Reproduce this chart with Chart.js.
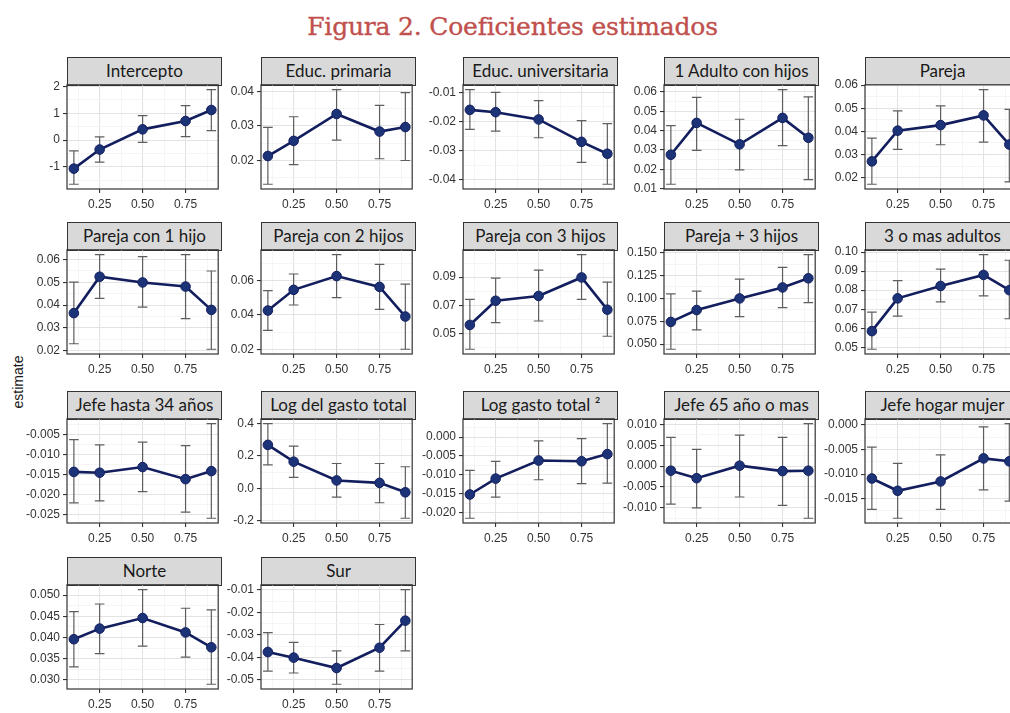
<!DOCTYPE html>
<html>
<head>
<meta charset="utf-8">
<script src="https://cdn.jsdelivr.net/npm/chart.js@4.4.0/dist/chart.umd.min.js"></script>
<style>
    body { margin: 0; width: 1010px; height: 713px; overflow: hidden; background: #fff; position: relative; }
    #title { position: absolute; left: 0; top: 12px; width: 1025px; text-align: center;
             font-family: "DejaVu Serif", serif; font-size: 25px; color: #c0504d;
             -webkit-text-stroke: 0.35px #c0504d; letter-spacing: -0.2px; }
    #ylab { position: absolute; left: -14px; top: 374px; width: 64px; text-align: center;
            transform: rotate(-90deg); font-family: "Liberation Sans", Arial, sans-serif;
            font-size: 14px; color: #1a1a1a; }
    .strip { position: absolute; box-sizing: border-box; border: 1px solid #333; background: #d9d9d9;
             text-align: center; font-family: Lato, "Open Sans", sans-serif; font-size: 17px;
             color: #1a1a1a; line-height: 26px; white-space: nowrap; overflow: hidden; }
    .panel { position: absolute; }
</style>
</head>
<body>
<div id="title">Figura 2. Coeficientes estimados</div>
<div id="ylab">estimate</div>
<script>
// quantiles on the x axis
const quantiles = [0.1, 0.25, 0.5, 0.75, 0.9];
const xTickValues = [0.25, 0.5, 0.75];
const xTickLabels = ['0.25', '0.50', '0.75'];

const panelNames = [
    'Intercepto', 'Educ. primaria', 'Educ. universitaria', '1 Adulto con hijos', 'Pareja',
    'Pareja con 1 hijo', 'Pareja con 2 hijos', 'Pareja con 3 hijos', 'Pareja + 3 hijos', '3 o mas adultos',
    'Jefe hasta 34 años', 'Log del gasto total', 'Log gasto total ²', 'Jefe 65 año o mas', 'Jefe hogar mujer',
    'Norte', 'Sur'
];

const estimates = [
    [-1.06, -0.35, 0.40, 0.71, 1.12],
    [0.0213, 0.0257, 0.0335, 0.0284, 0.0297],
    [-0.0160, -0.0168, -0.0193, -0.0270, -0.0311],
    [0.0275, 0.0440, 0.0329, 0.0466, 0.0363],
    [0.0270, 0.0403, 0.0427, 0.0469, 0.0343],
    [0.0365, 0.0524, 0.0499, 0.0481, 0.0379],
    [0.0425, 0.0545, 0.0625, 0.0562, 0.0390],
    [0.0562, 0.0733, 0.0767, 0.0898, 0.0670],
    [0.0743, 0.0873, 0.1000, 0.1120, 0.1220],
    [0.0585, 0.0757, 0.0822, 0.0880, 0.0800],
    [-0.0143, -0.0145, -0.0131, -0.0161, -0.0141],
    [0.267, 0.164, 0.049, 0.034, -0.024],
    [-0.0152, -0.0110, -0.0062, -0.0064, -0.0045],
    [-0.0011, -0.0029, 0.0001, -0.0012, -0.0011],
    [-0.0109, -0.0134, -0.0115, -0.0068, -0.0074],
    [0.0396, 0.0421, 0.0446, 0.0412, 0.0377],
    [-0.0376, -0.0401, -0.0447, -0.0357, -0.0237]
];

const lowerCI = [
    [-1.64, -0.82, -0.08, 0.13, 0.35],
    [0.0131, 0.0188, 0.0259, 0.0205, 0.0200],
    [-0.0227, -0.0233, -0.0256, -0.0341, -0.0416],
    [0.0122, 0.0298, 0.0197, 0.0322, 0.0146],
    [0.0171, 0.0322, 0.0342, 0.0353, 0.0181],
    [0.0231, 0.0429, 0.0391, 0.0341, 0.0207],
    [0.0310, 0.0457, 0.0500, 0.0432, 0.0200],
    [0.0390, 0.0578, 0.0590, 0.0743, 0.0482],
    [0.0444, 0.0655, 0.0802, 0.0900, 0.0955],
    [0.0490, 0.0664, 0.0739, 0.0770, 0.0650],
    [-0.0220, -0.0215, -0.0192, -0.0243, -0.0258],
    [0.145, 0.068, -0.053, -0.088, -0.183],
    [-0.0215, -0.0159, -0.0113, -0.0123, -0.0122],
    [-0.0091, -0.0100, -0.0074, -0.0094, -0.0125],
    [-0.0172, -0.0190, -0.0172, -0.0132, -0.0155],
    [0.0331, 0.0362, 0.0380, 0.0354, 0.0290],
    [-0.0461, -0.0469, -0.0519, -0.0461, -0.0371]
];

const upperCI = [
    [-0.40, 0.12, 0.91, 1.28, 1.88],
    [0.0296, 0.0327, 0.0406, 0.0360, 0.0397],
    [-0.0090, -0.0100, -0.0128, -0.0197, -0.0207],
    [0.0426, 0.0572, 0.0459, 0.0613, 0.0575],
    [0.0371, 0.0489, 0.0510, 0.0581, 0.0495],
    [0.0500, 0.0621, 0.0612, 0.0621, 0.0549],
    [0.0540, 0.0637, 0.0750, 0.0693, 0.0578],
    [0.0743, 0.0893, 0.0950, 0.1060, 0.0865],
    [0.1050, 0.1080, 0.1210, 0.1340, 0.1480],
    [0.0685, 0.0850, 0.0910, 0.0987, 0.0957],
    [-0.0063, -0.0076, -0.0069, -0.0078, -0.0023],
    [0.398, 0.260, 0.153, 0.153, 0.133],
    [-0.0088, -0.0064, -0.0010, -0.0004, 0.0036],
    [0.0069, 0.0040, 0.0074, 0.0069, 0.0102],
    [-0.0045, -0.0078, -0.0061, -0.0004, 0.0003],
    [0.0461, 0.0479, 0.0513, 0.0469, 0.0465],
    [-0.0290, -0.0333, -0.0371, -0.0254, -0.0099]
];

const yTickLabels = [
    ['-1', '0', '1', '2'],
    ['0.02', '0.03', '0.04'],
    ['-0.04', '-0.03', '-0.02', '-0.01'],
    ['0.01', '0.02', '0.03', '0.04', '0.05', '0.06'],
    ['0.02', '0.03', '0.04', '0.05', '0.06'],
    ['0.02', '0.03', '0.04', '0.05', '0.06'],
    ['0.02', '0.04', '0.06'],
    ['0.05', '0.07', '0.09'],
    ['0.050', '0.075', '0.100', '0.125', '0.150'],
    ['0.05', '0.06', '0.07', '0.08', '0.09', '0.10'],
    ['-0.025', '-0.020', '-0.015', '-0.010', '-0.005'],
    ['-0.2', '0.0', '0.2', '0.4'],
    ['-0.020', '-0.015', '-0.010', '-0.005', '0.000'],
    ['-0.010', '-0.005', '0.000', '0.005', '0.010'],
    ['-0.015', '-0.010', '-0.005', '0.000'],
    ['0.030', '0.035', '0.040', '0.045', '0.050'],
    ['-0.05', '-0.04', '-0.03', '-0.02', '-0.01']
];

// layout of the facet grid
const colLeft = [67, 261, 463, 664, 865];
const rowTop = [57, 222, 391, 557];
const stripH = 28, plotW = 155, plotH = 108;
const axisW = 48, xAxisH = 26;

const lineColor = '#121e5e';
const pointColor = '#1d3377';
const tickFont = { family: '"Liberation Sans", Arial, sans-serif', size: 12 };

Chart.defaults.font.family = tickFont.family;

const near = (a, b, step) => Math.abs(a - b) < step * 1e-3;

// error bars + panel border
const errorBars = {
    id: 'errorBars',
    beforeDatasetsDraw(chart, args, opts) {
        const { ctx, scales: { x, y } } = chart;
        const i = opts.panel;
        ctx.save();
        ctx.strokeStyle = '#5e5e5e';
        ctx.lineWidth = 1.2;
        quantiles.forEach((q, j) => {
            const px = x.getPixelForValue(q);
            const w = x.getPixelForValue(q + 0.028) - px;
            const y1 = y.getPixelForValue(lowerCI[i][j]);
            const y2 = y.getPixelForValue(upperCI[i][j]);
            ctx.beginPath();
            ctx.moveTo(px, y1); ctx.lineTo(px, y2);
            ctx.moveTo(px - w, y1); ctx.lineTo(px + w, y1);
            ctx.moveTo(px - w, y2); ctx.lineTo(px + w, y2);
            ctx.stroke();
        });
        ctx.restore();
    },
    afterDraw(chart) {
        const { ctx, chartArea: a } = chart;
        ctx.save();
        ctx.strokeStyle = '#333';
        ctx.lineWidth = 1.2;
        ctx.strokeRect(a.left, a.top, a.right - a.left, a.bottom - a.top);
        ctx.restore();
    }
};

function makePanel(i) {
    const col = i % 5, row = Math.floor(i / 5);
    const left = colLeft[col], top = rowTop[row] + stripH;

    const strip = document.createElement('div');
    strip.className = 'strip';
    strip.style.left = left + 'px';
    strip.style.top = rowTop[row] + 'px';
    strip.style.width = plotW + 'px';
    strip.style.height = (stripH + 1) + 'px';
    strip.textContent = panelNames[i];
    document.body.appendChild(strip);

    // y range like ggplot: data range plus 5% each side
    const lo = Math.min(...lowerCI[i]), hi = Math.max(...upperCI[i]);
    const pad = (hi - lo) * 0.05;
    const yMin = lo - pad, yMax = hi + pad;
    const majors = yTickLabels[i].map(Number);
    const step = majors[1] - majors[0];
    const yGrid = [...majors];
    for (let k = -1; k < majors.length; k++) {
        const v = majors[0] + (k + 0.5) * step;
        if (v > yMin && v < yMax) yGrid.push(v);
    }
    yGrid.sort((a, b) => a - b);
    const isMajorY = v => majors.some(m => near(m, v, step));
    const xGrid = [0.125, 0.25, 0.375, 0.5, 0.625, 0.75, 0.875];
    const isMajorX = v => xTickValues.some(m => near(m, v, 0.25));

    const wrap = document.createElement('div');
    wrap.className = 'panel';
    const cw = axisW + plotW + 2, ch = plotH + xAxisH + 2;
    wrap.style.left = (left - axisW) + 'px';
    wrap.style.top = (top - 1) + 'px';
    const canvas = document.createElement('canvas');
    canvas.width = cw; canvas.height = ch;
    canvas.style.width = cw + 'px'; canvas.style.height = ch + 'px';
    wrap.appendChild(canvas);
    document.body.appendChild(wrap);

    const chart = new Chart(canvas.getContext('2d'), {
        type: 'line',
        data: {
            datasets: [{
                data: quantiles.map((q, j) => ({ x: q, y: estimates[i][j] })),
                borderColor: lineColor,
                borderWidth: 2.6,
                pointRadius: 4.8,
                pointBackgroundColor: pointColor,
                pointBorderColor: lineColor,
                pointBorderWidth: 1,
                tension: 0
            }]
        },
        options: {
            responsive: false,
            animation: false,
            events: [],
            layout: { padding: { top: 1, right: 2, left: 0, bottom: 0 } },
            plugins: {
                legend: { display: false },
                tooltip: { enabled: false },
                errorBars: { panel: i }
            },
            scales: {
                x: {
                    type: 'linear',
                    min: 0.06,
                    max: 0.94,
                    afterBuildTicks: s => { s.ticks = xGrid.map(v => ({ value: v })); },
                    afterFit: s => { s.height = xAxisH; s.paddingLeft = 0; s.paddingRight = 0; },
                    ticks: {
                        autoSkip: false,
                        maxRotation: 0,
                        padding: 4,
                        font: tickFont,
                        color: '#333',
                        callback: v => {
                            const k = xTickValues.findIndex(m => near(m, v, 0.25));
                            return k >= 0 ? xTickLabels[k] : '';
                        }
                    },
                    grid: {
                        color: c => isMajorX(c.tick.value) ? '#e3e3e3' : '#f1f1f1',
                        lineWidth: c => isMajorX(c.tick.value) ? 1.1 : 0.7,
                        tickLength: 4,
                        tickColor: c => isMajorX(c.tick.value) ? '#333' : 'rgba(0,0,0,0)'
                    },
                    border: { display: false }
                },
                y: {
                    type: 'linear',
                    min: yMin,
                    max: yMax,
                    afterBuildTicks: s => { s.ticks = yGrid.map(v => ({ value: v })); },
                    afterFit: s => { s.width = axisW; s.paddingTop = 0; s.paddingBottom = 0; },
                    ticks: {
                        autoSkip: false,
                        padding: 3,
                        font: tickFont,
                        color: '#333',
                        callback: v => {
                            const k = majors.findIndex(m => near(m, v, step));
                            return k >= 0 ? yTickLabels[i][k] : '';
                        }
                    },
                    grid: {
                        color: c => isMajorY(c.tick.value) ? '#e3e3e3' : '#f1f1f1',
                        lineWidth: c => isMajorY(c.tick.value) ? 1.1 : 0.7,
                        tickLength: 4,
                        tickColor: c => isMajorY(c.tick.value) ? '#333' : 'rgba(0,0,0,0)'
                    },
                    border: { display: false }
                }
            }
        },
        plugins: [errorBars]
    });

    // nudge so the plotting area sits exactly under the strip
    const a = chart.chartArea;
    wrap.style.left = (left - a.left) + 'px';
    wrap.style.top = (top - a.top) + 'px';
}

panelNames.forEach((_, i) => makePanel(i));
</script>
</body>
</html>
